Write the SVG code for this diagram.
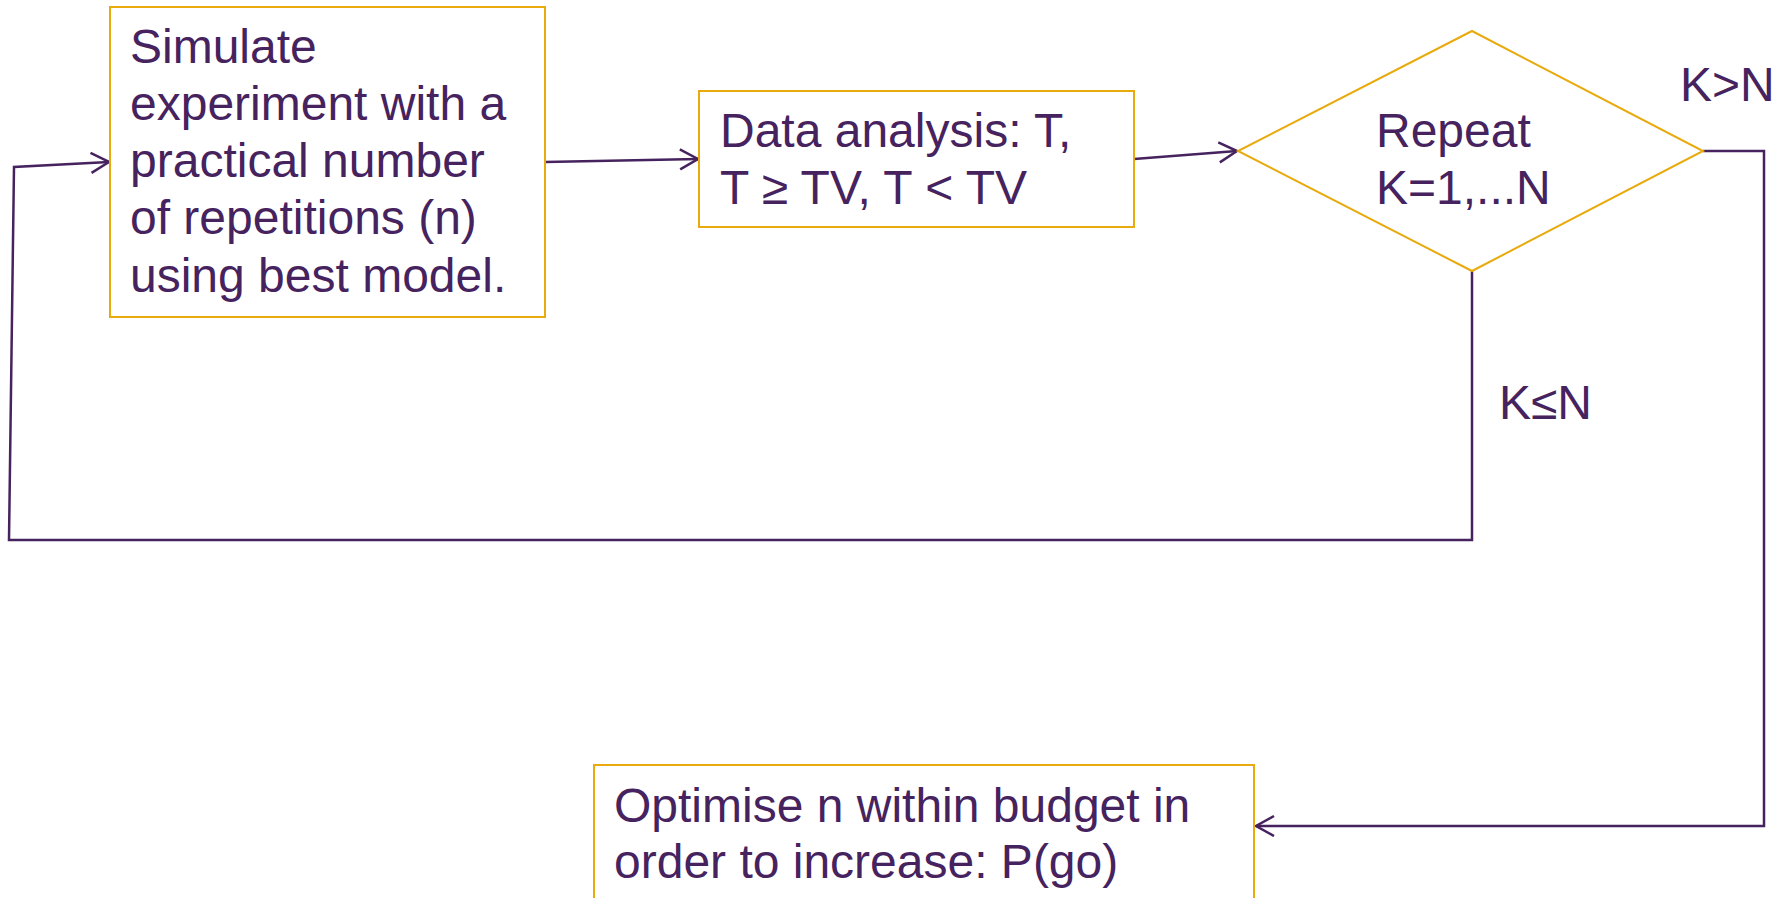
<svg xmlns="http://www.w3.org/2000/svg" width="1785" height="898" viewBox="0 0 1785 898">
<defs>
<style>
.node{fill:#ffffff;stroke:#E8AA0C;stroke-width:2}
.lbl{font-family:"Liberation Sans",Arial,sans-serif;font-size:48px;fill:#46235E}
.conn{fill:none;stroke:#46235E;stroke-width:2.5}
</style>
<marker id="arr" markerUnits="userSpaceOnUse" markerWidth="24" markerHeight="24" refX="19" refY="11" orient="auto">
<path d="M1,1 L19,11 L1,21" fill="none" stroke="#46235E" stroke-width="2.5"/>
</marker>
</defs>
<rect width="1785" height="898" fill="#ffffff"/>
<g id="connectors">
<path class="conn" d="M545,162 L698,159" marker-end="url(#arr)"/>
<path class="conn" d="M1134,159 L1237,151" marker-end="url(#arr)"/>
<path class="conn" d="M1703,151 L1764,151 L1764,826 L1256,826" marker-end="url(#arr)"/>
<path class="conn" d="M1472,271 L1472,540 L9,540 L14,167 L109,162" marker-end="url(#arr)"/>
</g>
<g id="simulate">
<rect class="node" x="110" y="7" width="435" height="310"/>
<text class="lbl" x="130"><tspan x="130" y="63">Simulate</tspan><tspan x="130" y="120">experiment with a</tspan><tspan x="130" y="177">practical number</tspan><tspan x="130" y="234">of repetitions (n)</tspan><tspan x="130" y="292">using best model.</tspan></text>
</g>
<g id="analysis">
<rect class="node" x="699" y="91" width="435" height="136"/>
<text class="lbl"><tspan x="720" y="147">Data analysis: T,</tspan><tspan x="720" y="204">T ≥ TV, T &lt; TV</tspan></text>
</g>
<g id="repeat">
<polygon class="node" points="1472,31 1703,151 1472,271 1238,151"/>
<text class="lbl"><tspan x="1376" y="147">Repeat</tspan><tspan x="1376" y="204">K=1,...N</tspan></text>
</g>
<g id="optimise">
<rect class="node" x="594" y="765" width="660" height="150"/>
<text class="lbl"><tspan x="614" y="822">Optimise n within budget in</tspan><tspan x="614" y="878">order to increase: P(go)</tspan></text>
</g>
<g id="labels">
<text class="lbl" x="1680" y="101">K&gt;N</text>
<text class="lbl" x="1499" y="419">K≤N</text>
</g>
</svg>
